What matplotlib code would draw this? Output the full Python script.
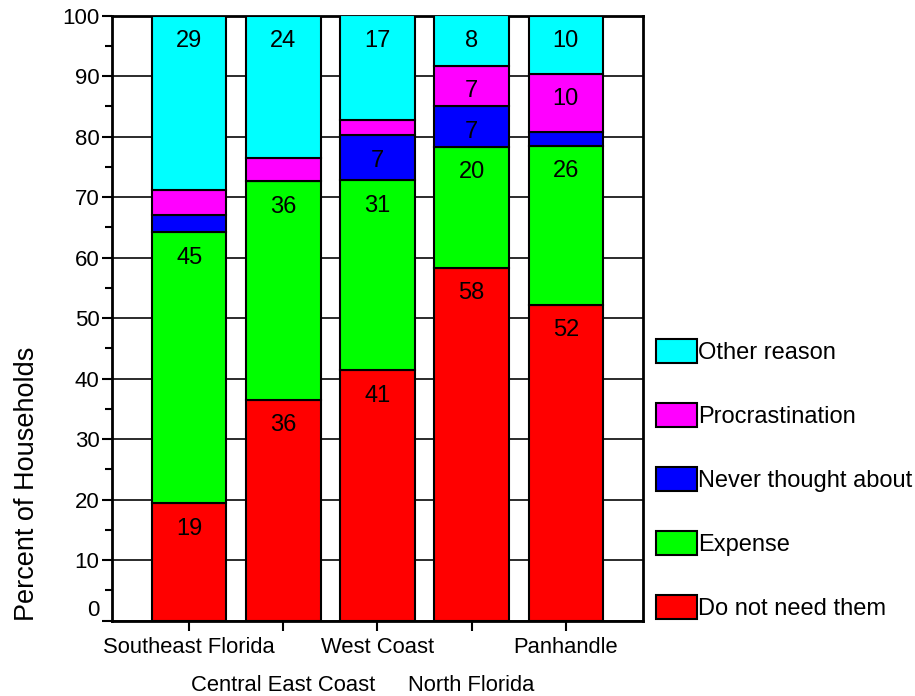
import matplotlib
matplotlib.use("Agg")
import matplotlib.pyplot as plt
import numpy as np
from matplotlib.transforms import ScaledTranslation

plt.rcParams['font.family'] = ['Liberation Sans', 'DejaVu Sans']

regions = ["Southeast Florida", "Central East Coast", "West Coast",
           "North Florida", "Panhandle"]

# Percent of households per reason (stacked bottom to top)
do_not_need = [19.4, 36.5, 41.4, 58.3, 52.2]
expense = [44.8, 36.1, 31.4, 20.0, 26.3]
never_thought = [2.9, 0.0, 7.4, 6.7, 2.3]
procrastination = [4.1, 3.8, 2.6, 6.7, 9.6]
other_reason = [28.8, 23.6, 17.2, 8.3, 9.6]

series = [
    ("Do not need them", do_not_need, "#ff0000"),
    ("Expense", expense, "#00ff00"),
    ("Never thought about", never_thought, "#0000ff"),
    ("Procrastination", procrastination, "#ff00ff"),
    ("Other reason", other_reason, "#00ffff"),
]

y_ticks = list(range(0, 101, 10))

fig = plt.figure(figsize=(9.15, 6.96), dpi=100)
ax = fig.add_axes([112 / 915, 1 - 620.7 / 696, (643 - 112) / 915, (620.7 - 15.5) / 696])

x = np.arange(len(regions))
bottom = np.zeros(len(regions))
handles = []
for name, vals, color in series:
    vals = np.array(vals)
    h = ax.bar(x, vals, width=0.79, bottom=bottom, color=color,
               edgecolor="black", linewidth=1.5, label=name, zorder=3)
    handles.append(h)
    for xi, b, v in zip(x, bottom, vals):
        if v >= 5:
            ax.text(xi, b + v - 4.2, f"{v:.0f}", ha="center", va="center",
                    fontsize=17, color="black", zorder=4)
    bottom = bottom + vals

ax.set_xlim(-0.82, 4.82)
ax.set_ylim(0, 100)
ax.set_yticks(y_ticks)
ax.set_yticks(range(5, 100, 10), minor=True)
ax.yaxis.grid(True, which="major", color="#1a1a1a", linewidth=1.3, zorder=0)
ax.set_axisbelow(True)

ax.set_xticks(x)
ax.set_xticklabels(regions)
ax.tick_params(axis="both", which="major", labelsize=16, direction="out",
               width=1.5, length=7, color="black")
ax.tick_params(axis="x", which="major", labelsize=15.8)
ax.tick_params(axis="y", which="major", pad=2)
ax.tick_params(axis="y", which="minor", direction="out", width=1.5, length=5)
ax.tick_params(axis="x", which="major", pad=5)
for i, t in enumerate(ax.xaxis.get_major_ticks()):
    if i % 2 == 1:
        t.set_pad(32)

# lift the zero label off the baseline
zero_label = ax.yaxis.get_major_ticks()[0].label1
zero_label.set_transform(zero_label.get_transform() +
                         ScaledTranslation(0, 13 / 100, fig.dpi_scale_trans))

for s in ax.spines.values():
    s.set_linewidth(2)
    s.set_color("black")

ax.set_ylabel("Percent of Households", fontsize=19.5)
ax.yaxis.set_label_coords((40 - 112) / 531, (620.7 - 484) / 605.2)

leg = fig.legend(handles[::-1], [s[0] for s in series][::-1],
                 loc="upper left", bbox_to_anchor=(656 / 915, 1 - 339 / 696),
                 frameon=False, fontsize=17, handlelength=1.74,
                 handleheight=1.19, handletextpad=0.05, labelspacing=1.65,
                 borderpad=0, borderaxespad=0)

fig.savefig("out.png", dpi=100)
